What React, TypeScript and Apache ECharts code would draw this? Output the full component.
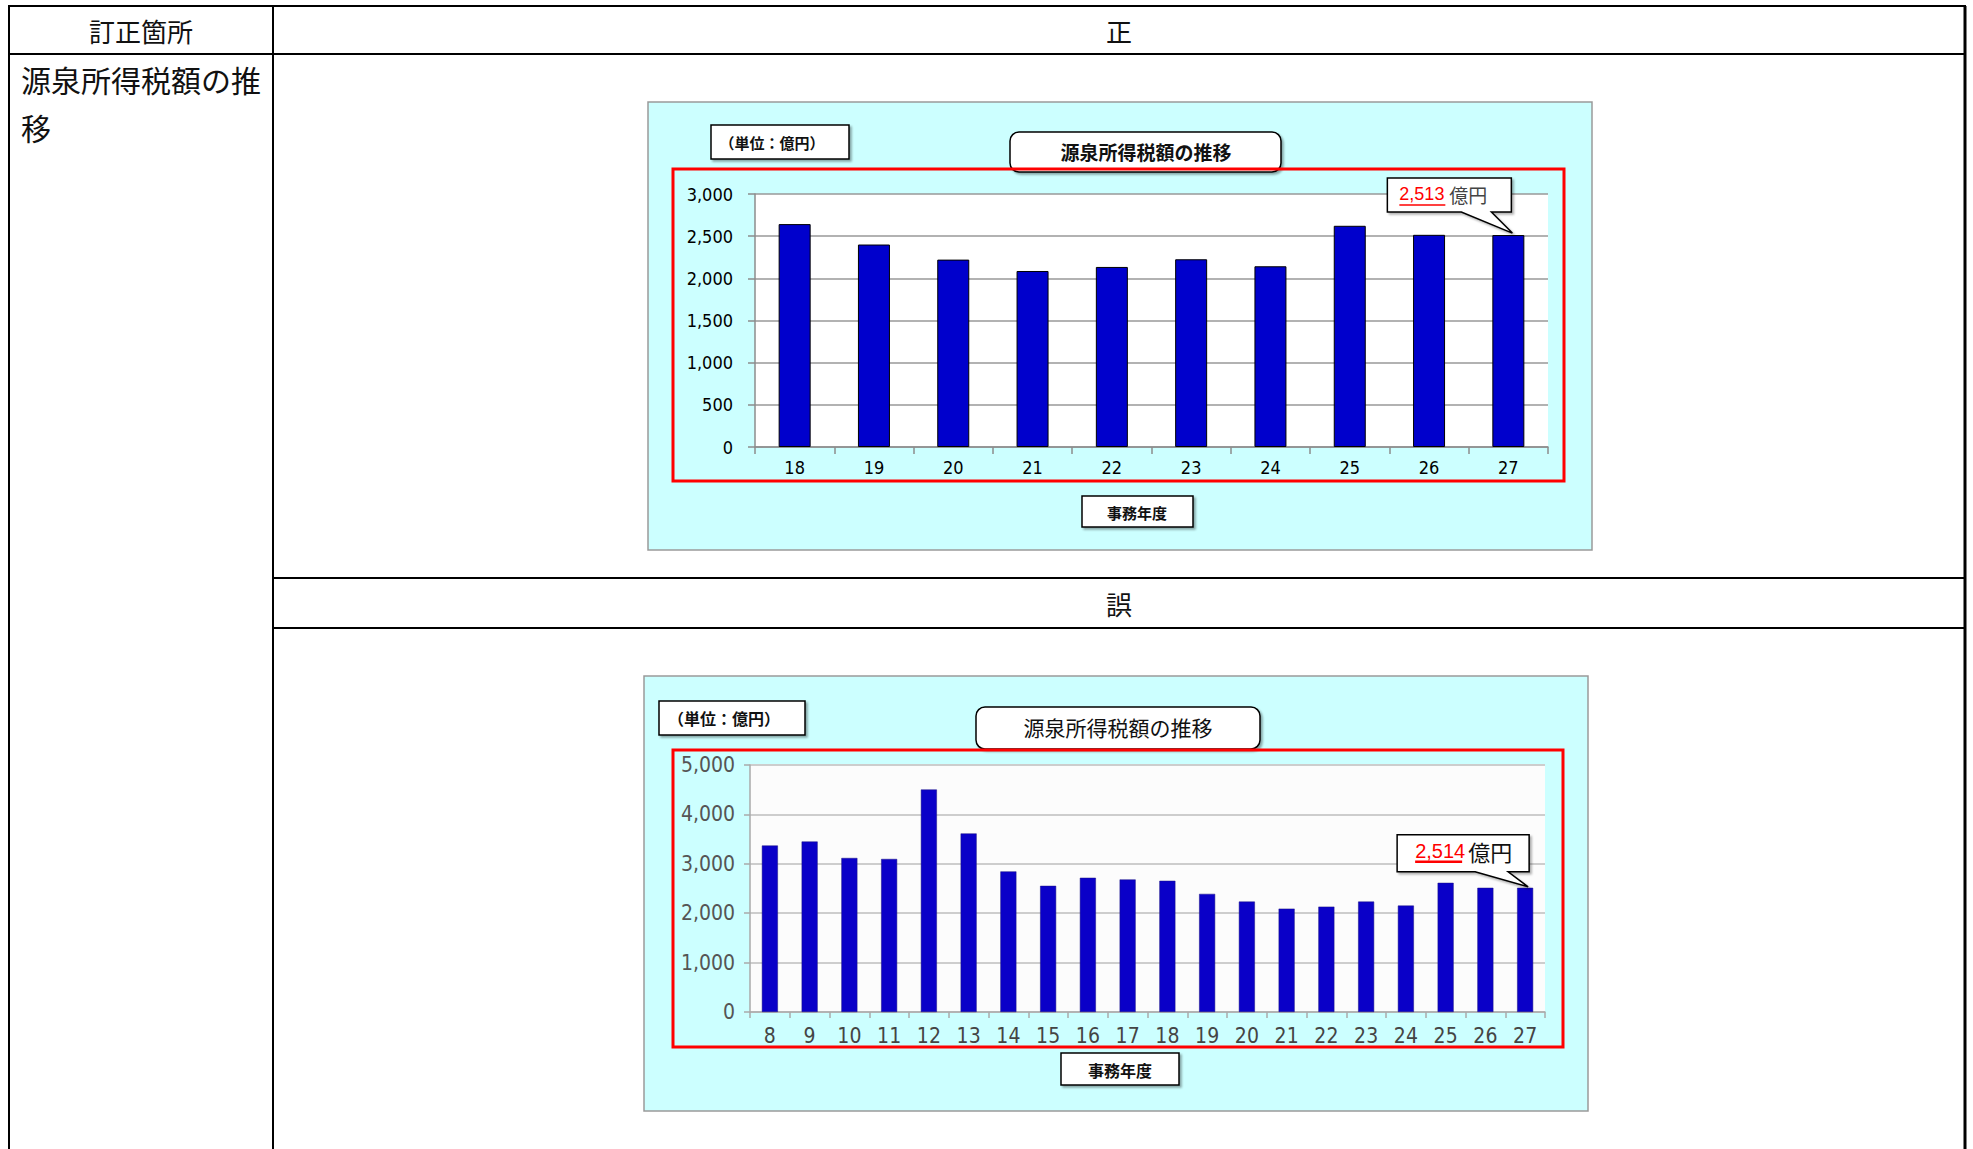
import React, { useEffect, useRef } from 'react';
import * as echarts from 'echarts';

// 正 (corrected) chart data
const years1 = ['18', '19', '20', '21', '22', '23', '24', '25', '26', '27'];
const values1 = [2643, 2401, 2222, 2087, 2135, 2226, 2143, 2623, 2516, 2513];
const callout1Value = '2,513';

// 誤 (erroneous) chart data
const years2 = ['8', '9', '10', '11', '12', '13', '14', '15', '16', '17', '18', '19', '20', '21', '22', '23', '24', '25', '26', '27'];
const values2 = [3370, 3451, 3118, 3098, 4504, 3614, 2846, 2554, 2717, 2683, 2656, 2391, 2235, 2092, 2133, 2235, 2154, 2615, 2514, 2514];
const callout2Value = '2,514';

const unitLabel = '億円';
const chartTitle = '源泉所得税額の推移';
const unitBoxText = '（単位：億円）';
const xAxisName = '事務年度';

const JP = '"Noto Sans CJK JP", sans-serif';
const NUM = '"Liberation Sans Narrow", "DejaVu Sans Condensed", "Liberation Sans", sans-serif';

const fmt = (v: number) => v.toLocaleString('en-US');

function staticGraphics(): any[] {
  const g: any[] = [];
  const line = (x1: number, y1: number, x2: number, y2: number, w = 2) =>
    g.push({ type: 'line', z: 100, shape: { x1, y1, x2, y2 }, style: { stroke: '#000', lineWidth: w } });
  // table
  line(8, 6, 1966, 6);
  line(9, 6, 9, 1149, 2);
  line(273, 6, 273, 1149, 2);
  line(1965, 6, 1965, 1149, 3);
  line(8, 54, 1966, 54);
  line(273, 578, 1966, 578);
  line(273, 628, 1966, 628);
  const txt = (text: string, x: number, y: number, size: number, align = 'center') =>
    g.push({ type: 'text', z: 100, x, y, style: { text, fontSize: size, fontFamily: JP, fill: '#111', align, verticalAlign: 'middle' } });
  txt('訂正箇所', 141, 30, 26);
  txt('源泉所得税額の推', 21, 79, 30, 'left');
  txt('移', 21, 127, 30, 'left');
  txt('正', 1119, 30, 26);
  txt('誤', 1119, 603, 26);

  // panels
  const panel = (x: number, y: number, w: number, h: number) =>
    g.push({ type: 'rect', z: -10, shape: { x, y, width: w, height: h }, style: { fill: '#ccffff', stroke: '#9a9a9a', lineWidth: 1.5 } });
  panel(648, 102, 944, 448);
  panel(644, 676, 944, 435);

  const box = (x: number, y: number, w: number, h: number, r = 0) =>
    g.push({
      type: 'rect', z: 90, shape: { x, y, width: w, height: h, r },
      style: { fill: '#fff', stroke: '#000', lineWidth: 1.5, shadowBlur: 2, shadowOffsetX: 2, shadowOffsetY: 2, shadowColor: 'rgba(0,0,0,0.35)' },
    });
  const btxt = (text: string, x: number, y: number, size: number, align = 'center', weight: any = 'bold') =>
    g.push({ type: 'text', z: 95, x, y, style: { text, fontSize: size, fontFamily: JP, fontWeight: weight, fill: '#111', align, verticalAlign: 'middle' } });

  // chart 1 decorations
  box(711, 125, 138, 34);
  btxt(unitBoxText, 772, 142, 15);
  box(1010, 132, 271, 40, 9);
  btxt(chartTitle, 1146, 151, 19);
  box(1082, 496, 111, 31);
  btxt(xAxisName, 1137, 512, 15);
  g.push({ type: 'rect', z: 92, shape: { x: 673, y: 169, width: 891, height: 312 }, style: { fill: 'none', stroke: '#ff0000', lineWidth: 3 } });

  // chart 2 decorations
  box(659, 701, 146, 34);
  btxt(unitBoxText, 668, 718, 16, 'left');
  box(976, 707, 284, 42, 9);
  btxt(chartTitle, 1118, 727, 21, 'center', 'normal');
  box(1061, 1053, 118, 32);
  btxt(xAxisName, 1120, 1070, 16);
  g.push({ type: 'rect', z: 92, shape: { x: 673, y: 750, width: 890, height: 297 }, style: { fill: 'none', stroke: '#ff0000', lineWidth: 3 } });
  return g;
}

function callout(tx: number, ty: number, spec: any): any[] {
  const bx = tx + spec.bx, by = ty + spec.by, br = tx + spec.br, bb = ty + spec.bb;
  return [
    {
      type: 'polygon', z: 110,
      shape: { points: [[bx, by], [br, by], [br, bb], [tx + spec.t2, bb], [tx, ty], [tx + spec.t1, bb], [bx, bb]] },
      style: { fill: '#fff', stroke: '#000', lineWidth: 1.5, shadowBlur: 2, shadowOffsetX: 2, shadowOffsetY: 2, shadowColor: 'rgba(0,0,0,0.3)' },
    },
    { type: 'text', z: 111, x: tx + spec.vx, y: ty + spec.ty, style: { text: spec.value, fontSize: spec.vs, fontFamily: '"Liberation Sans", sans-serif', fill: '#ff0000', verticalAlign: 'middle' } },
    { type: 'line', z: 111, shape: { x1: tx + spec.vx, y1: ty + spec.uy, x2: tx + spec.vx + spec.uw, y2: ty + spec.uy }, style: { stroke: '#ff0000', lineWidth: spec.ulw } },
    { type: 'text', z: 111, x: tx + spec.ux, y: ty + spec.ty, style: { text: unitLabel, fontSize: spec.us, fontFamily: JP, fill: spec.uc, verticalAlign: 'middle' } },
  ];
}

export default function App() {
  const ref = useRef<HTMLDivElement>(null);
  useEffect(() => {
    document.body.style.margin = '0';
    const chart = echarts.init(ref.current!, null, { renderer: 'svg' });
    const axisGrey = '#8c8c8c';
    const option: any = {
      animation: false,
      backgroundColor: '#ffffff',
      grid: [
        { left: 755, top: 194, width: 793, height: 253, show: true, backgroundColor: '#ffffff', borderWidth: 0 },
        { left: 750, top: 765, width: 795, height: 247, show: true, backgroundColor: '#fcfcfc', borderWidth: 0 },
      ],
      xAxis: [
        {
          type: 'category', gridIndex: 0, data: years1,
          axisLine: { lineStyle: { color: axisGrey, width: 1.5 } },
          axisTick: { show: true, alignWithLabel: false, length: 7, lineStyle: { color: axisGrey, width: 1.5 } },
          axisLabel: { color: '#000', fontSize: 18, margin: 11, fontFamily: NUM },
          splitLine: { show: false },
        },
        {
          type: 'category', gridIndex: 1, data: years2,
          axisLine: { lineStyle: { color: '#aaa', width: 1.5 } },
          axisTick: { show: true, alignWithLabel: false, length: 6, lineStyle: { color: '#aaa', width: 1.5 } },
          axisLabel: { color: '#444', fontSize: 21, margin: 13, fontFamily: NUM, interval: 0 },
          splitLine: { show: false },
        },
      ],
      yAxis: [
        {
          type: 'value', gridIndex: 0, min: 0, max: 3000, interval: 500,
          axisLine: { show: true, lineStyle: { color: axisGrey, width: 1.5 } },
          axisTick: { show: true, length: 7, lineStyle: { color: axisGrey, width: 1.5 } },
          axisLabel: { color: '#000', fontSize: 18, margin: 22, fontFamily: NUM, formatter: fmt },
          splitLine: { lineStyle: { color: '#999', width: 1.5 } },
        },
        {
          type: 'value', gridIndex: 1, min: 0, max: 5000, interval: 1000,
          axisLine: { show: true, lineStyle: { color: '#aaa', width: 1.5 } },
          axisTick: { show: true, length: 6, lineStyle: { color: '#aaa', width: 1.5 } },
          axisLabel: { color: '#555', fontSize: 21, margin: 15, fontFamily: NUM, formatter: fmt },
          splitLine: { lineStyle: { color: '#cdcdcd', width: 2 } },
        },
      ],
      series: [
        { type: 'bar', xAxisIndex: 0, yAxisIndex: 0, data: values1, barWidth: 32, itemStyle: { color: '#0000cc', borderColor: '#000', borderWidth: 1 } },
        { type: 'bar', xAxisIndex: 1, yAxisIndex: 1, data: values2, barWidth: 16, itemStyle: { color: '#0a00c8', borderColor: '#1a1080', borderWidth: 0.5 } },
      ],
      graphic: staticGraphics(),
    };
    chart.setOption(option);
    const p1 = chart.convertToPixel({ seriesIndex: 0 }, [years1.length - 1, values1[values1.length - 1]]) as number[];
    const p2 = chart.convertToPixel({ seriesIndex: 1 }, [years2.length - 1, values2[values2.length - 1]]) as number[];
    const c1 = callout(p1[0] + 4, p1[1] - 2, {
      bx: -125, by: -55, br: -1, bb: -21, t1: -51, t2: -21,
      value: callout1Value, vx: -113, vs: 18, ty: -39, uy: -28, uw: 46, ulw: 1.5, ux: -63, us: 19, uc: '#444',
    });
    const c2 = callout(p2[0] + 3, p2[1] - 1, {
      bx: -131, by: -52, br: 1, bb: -15, t1: -53, t2: -20,
      value: callout2Value, vx: -113, vs: 20, ty: -36, uy: -25, uw: 47, ulw: 2.5, ux: -60, us: 22, uc: '#111',
    });
    chart.setOption({ graphic: [...staticGraphics(), ...c1, ...c2] }, { replaceMerge: ['graphic'] });
    return () => chart.dispose();
  }, []);
  return <div ref={ref} style={{ position: 'absolute', left: 0, top: 0, width: 1973, height: 1149 }} />;
}
